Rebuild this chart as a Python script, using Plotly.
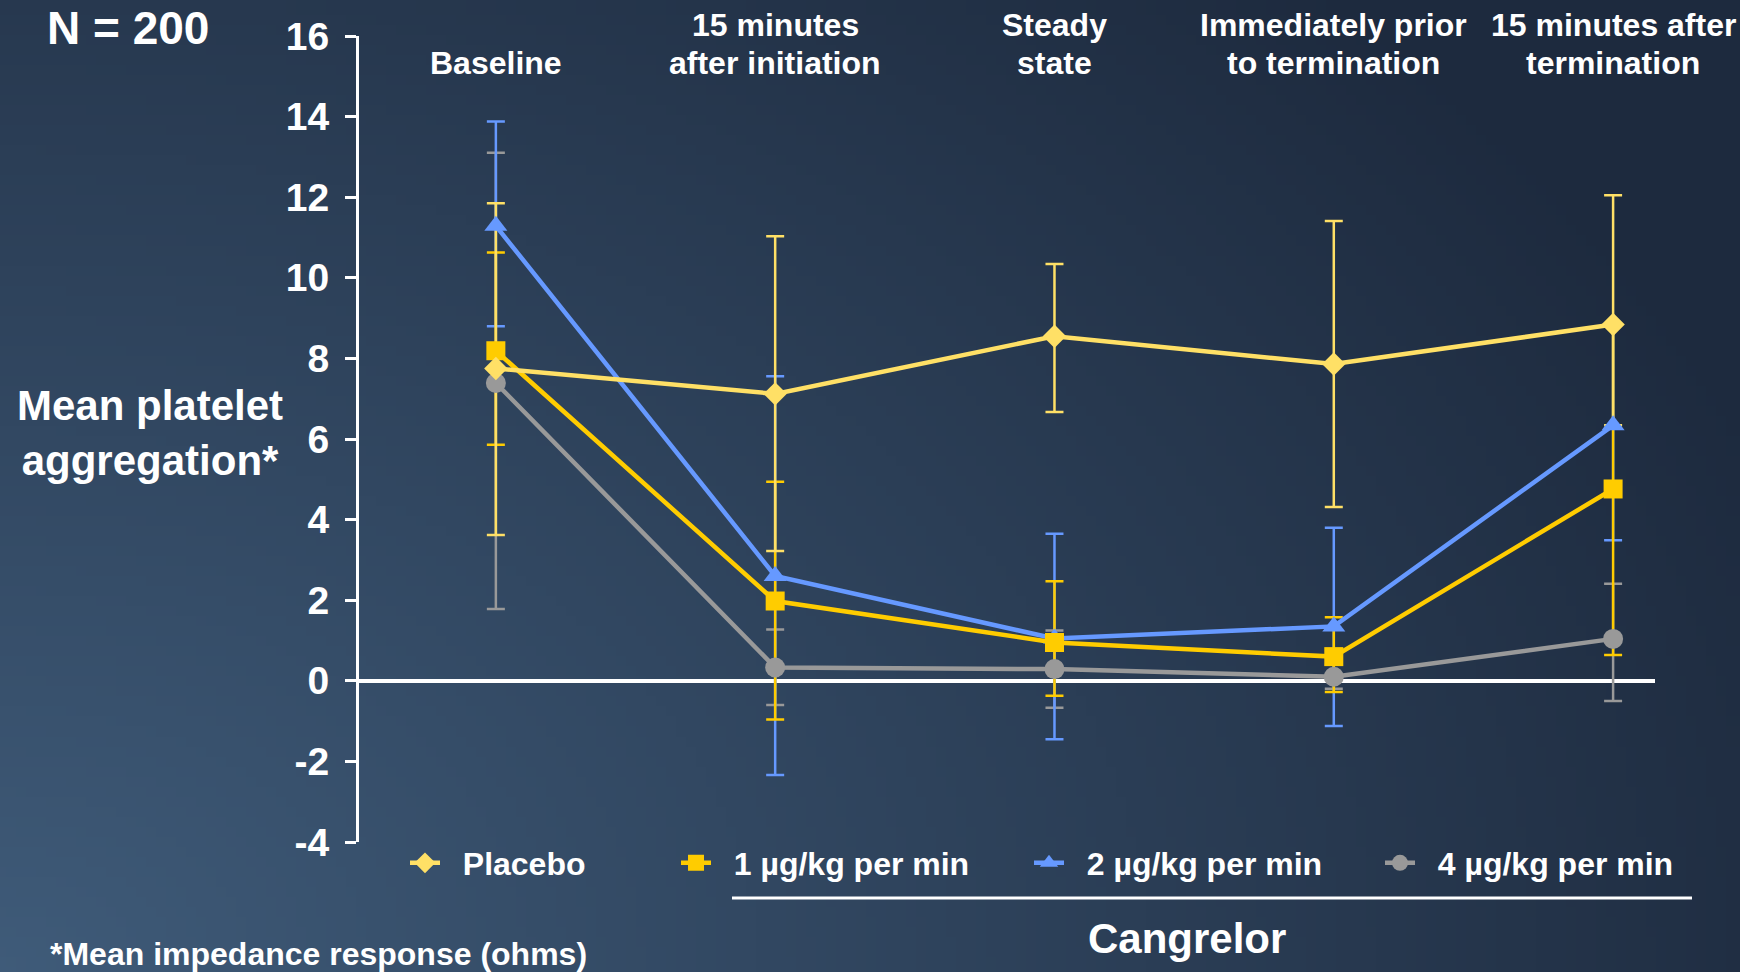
import math, zlib, struct, base64
import plotly.graph_objects as go

# ---------------- data ----------------
timepoints = [["", "Baseline"], ["15 minutes", "after initiation"], ["Steady", "state"],
              ["Immediately prior", "to termination"], ["15 minutes after", "termination"]]
x_idx = [0, 1, 2, 3, 4]

placebo = [7.75, 7.12, 8.55, 7.86, 8.84]
placebo_up = [4.10, 3.91, 1.79, 3.55, 3.21]
placebo_dn = [4.13, 3.90, 1.88, 3.55, 2.50]

dose1 = [8.19, 1.98, 0.95, 0.60, 4.76]
dose1_up = [2.44, 2.96, 1.52, 0.98, 4.10]
dose1_dn = [2.33, 2.94, 1.32, 0.88, 4.12]

dose2 = [11.29, 2.60, 1.05, 1.35, 6.34]
dose2_up = [2.59, 4.96, 2.60, 2.45, 2.50]
dose2_dn = [2.49, 4.94, 2.50, 2.47, 2.85]

dose4 = [7.39, 0.33, 0.29, 0.10, 1.04]
dose4_up = [5.71, 0.94, 0.96, 0.30, 1.37]
dose4_dn = [5.61, 0.93, 0.96, 0.30, 1.54]

y_ticks = [16, 14, 12, 10, 8, 6, 4, 2, 0, -2, -4]
y_ticktext = ["16", "14", "12", "10", "8", "6", "4", "2", "0", "-2", "-4"]

# ---------------- layout geometry ----------------
W, H = 1740, 972
PL, PR, PT, PB = 359, 1655, 36, 842
FONT = "Liberation Sans, Arial, sans-serif"

def px_x(px):
    return (px - PL) / (PR - PL)

def px_y(py):
    return (PB - py) / (PB - PT)

# ---------------- gradient background ----------------
def make_bg(w=174, h=97):
    light = (63, 91, 121)
    dark = (29, 42, 62)
    raw = bytearray()
    for j in range(h):
        raw.append(0)
        v = j / (h - 1)
        for i in range(w):
            u = i / (w - 1)
            d = math.sqrt(u * u + 0.6 * (1 - v) ** 2) / 1.1
            t = min(1.0, d)
            for k in range(3):
                raw.append(int(round(light[k] + (dark[k] - light[k]) * t)))

    def chunk(tag, data):
        c = struct.pack('>I', len(data)) + tag + data
        return c + struct.pack('>I', zlib.crc32(tag + data) & 0xffffffff)

    png = (b'\x89PNG\r\n\x1a\n'
           + chunk(b'IHDR', struct.pack('>IIBBBBB', w, h, 8, 2, 0, 0, 0))
           + chunk(b'IDAT', zlib.compress(bytes(raw)))
           + chunk(b'IEND', b''))
    return 'data:image/png;base64,' + base64.b64encode(png).decode()

fig = go.Figure()

PAD = "\u00a0\u00a0"
series = [
    # name, y, up, dn, color, symbol, size, rank, legend width
    ("4 µg/kg per min", dose4, dose4_up, dose4_dn, "#999999", "circle", 20, 4, 272),
    ("2 µg/kg per min", dose2, dose2_up, dose2_dn, "#6699FF", "triangle-up", 20, 3, 306),
    ("1 µg/kg per min", dose1, dose1_up, dose1_dn, "#FFCC00", "square", 19, 2, 308),
    ("Placebo", placebo, placebo_up, placebo_dn, "#FFE066", "diamond", 18, 1, 226),
]

# error bars first (beneath all lines and markers)
for name, y, up, dn, col, sym, sz, rank, lw in series:
    fig.add_trace(go.Scatter(
        x=x_idx, y=y, mode="markers", showlegend=False, hoverinfo="skip",
        marker=dict(size=1, opacity=0),
        error_y=dict(type="data", array=up, arrayminus=dn, symmetric=False,
                     color=col, thickness=2.5, width=9),
    ))

for name, y, up, dn, col, sym, sz, rank, lw in series:
    fig.add_trace(go.Scatter(
        x=x_idx, y=y, name=PAD + name, mode="lines+markers",
        line=dict(color=col, width=4.5),
        marker=dict(color=col, symbol=sym, size=sz, line=dict(width=0)),
        legendrank=rank, legendwidth=lw,
    ))

annotations = []
# category labels above plot (two lines each)
for i, (l1, l2) in enumerate(timepoints):
    for txt, py in ((l1, 25), (l2, 63)):
        if not txt:
            continue
        annotations.append(dict(
            x=i, xref="x", y=px_y(py), yref="paper",
            text=txt, showarrow=False, xanchor="center", yanchor="middle",
            font=dict(family=FONT, size=32, color="white", weight="bold")))

annotations += [
    dict(x=px_x(150), y=px_y(433), xref="paper", yref="paper",
         text="Mean platelet<br>aggregation*", showarrow=False,
         xanchor="center", yanchor="middle", align="center",
         font=dict(family=FONT, size=42, color="white", weight="bold")),
    dict(x=px_x(128), y=px_y(28), xref="paper", yref="paper",
         text="N = 200", showarrow=False, xanchor="center", yanchor="middle",
         font=dict(family=FONT, size=46, color="white", weight="bold")),
    dict(x=px_x(1187), y=px_y(938), xref="paper", yref="paper",
         text="Cangrelor", showarrow=False, xanchor="center", yanchor="middle",
         font=dict(family=FONT, size=42, color="white", weight="bold")),
    dict(x=px_x(48), y=px_y(954), xref="paper", yref="paper",
         text="*Mean impedance response (ohms)", showarrow=False,
         xanchor="left", yanchor="middle",
         font=dict(family=FONT, size=32, color="white", weight="bold")),
]

shapes = [
    dict(type="line", xref="paper", yref="paper",
         x0=px_x(732), x1=px_x(1692), y0=px_y(898), y1=px_y(898),
         line=dict(color="white", width=3)),
]

pw, ph = PR - PL, PB - PT
images = [dict(source=make_bg(), xref="paper", yref="paper",
               x=-PL / pw, y=1 + PT / ph, sizex=W / pw, sizey=H / ph,
               xanchor="left", yanchor="top", sizing="stretch", layer="below")]

fig.update_layout(
    width=W, height=H,
    margin=dict(l=PL, r=W - PR, t=PT, b=H - PB),
    paper_bgcolor="#2c4059", plot_bgcolor="rgba(0,0,0,0)",
    font=dict(family=FONT, color="white", weight="bold"),
    xaxis=dict(range=[-0.49, 4.15], showgrid=False, zeroline=False,
               showline=False, showticklabels=False, ticks=""),
    yaxis=dict(range=[-4, 16], tickvals=y_ticks, ticktext=y_ticktext, showgrid=False,
               zeroline=True, zerolinecolor="white", zerolinewidth=3.5,
               showline=True, linecolor="white", linewidth=3,
               ticks="outside", ticklen=11, tickwidth=3, tickcolor="white",
               ticklabelstandoff=8,
               tickfont=dict(family=FONT, size=39, color="white", weight="bold")),
    legend=dict(orientation="h", x=px_x(405), xanchor="left",
                y=px_y(863), yanchor="middle", bgcolor="rgba(0,0,0,0)",
                font=dict(family=FONT, size=32, color="white", weight="bold"),
                itemclick=False),
    annotations=annotations, shapes=shapes, images=images,
    showlegend=True,
)

fig.write_html("out.html")
